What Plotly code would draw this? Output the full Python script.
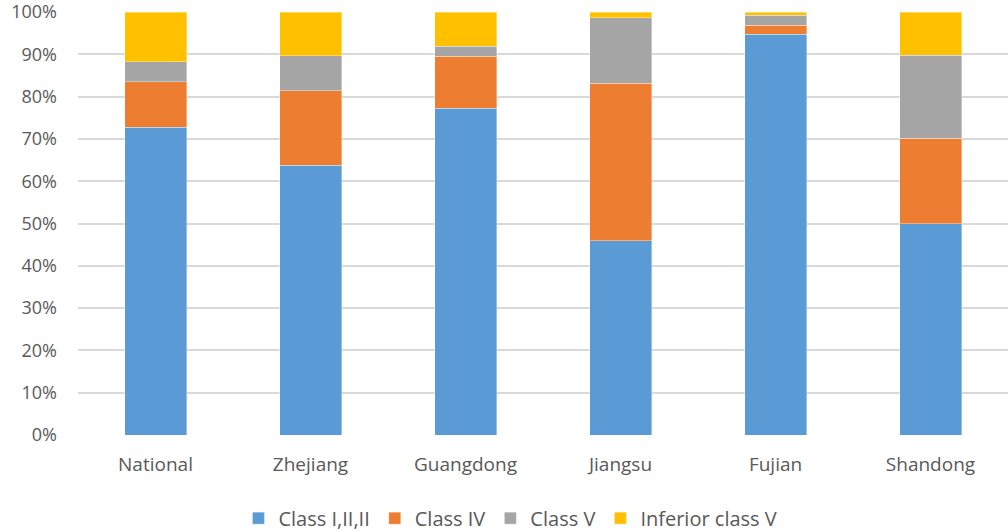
import plotly.graph_objects as go

regions = ["National", "Zhejiang", "Guangdong", "Jiangsu", "Fujian", "Shandong"]
class_i_iii = [72.8, 63.8, 77.3, 45.9, 94.7, 50.0]
class_iv = [10.7, 17.6, 12.2, 37.2, 2.2, 20.2]
class_v = [4.7, 8.2, 2.4, 15.6, 2.3, 19.6]
inferior_v = [11.8, 10.4, 8.1, 1.3, 0.8, 10.2]

series = [
    ("Class I,II,II", class_i_iii, "#5b9bd5"),
    ("Class IV", class_iv, "#ed7d31"),
    ("Class V", class_v, "#a5a5a5"),
    ("Inferior class V", inferior_v, "#ffc000"),
]

fig = go.Figure()
for name, vals, color in series:
    fig.add_trace(go.Bar(
        x=regions, y=vals, name=name,
        marker=dict(color=color, line=dict(color="rgba(255,255,255,0.6)", width=0.6)),
    ))

fig.update_layout(
    barmode="stack",
    barnorm="percent",
    bargap=0.6,
    width=1008, height=532,
    margin=dict(l=78, r=0, t=12, b=97, autoexpand=False),
    plot_bgcolor="white", paper_bgcolor="white",
    font=dict(family="Open Sans, Liberation Sans, sans-serif", size=19, color="#595959"),
    legend=dict(orientation="h", x=0.465, xanchor="center", xref="paper",
                y=0.026, yanchor="middle", yref="container",
                font=dict(size=20, color="#595959"), traceorder="normal",
                itemwidth=30),
    showlegend=True,
)
fig.update_yaxes(range=[0, 100], tickvals=list(range(0, 101, 10)),
                 ticktext=[f"{v}%" for v in range(0, 101, 10)], showgrid=True,
                 gridcolor="#d9d9d9", gridwidth=1.5, zeroline=False, showline=False,
                 tickfont=dict(size=18), ticklabelstandoff=20,
                 ticklabeloverflow="allow")
fig.update_xaxes(showgrid=False, showline=False, tickfont=dict(size=19), ticklabelstandoff=16)

fig.write_html("out.html")
